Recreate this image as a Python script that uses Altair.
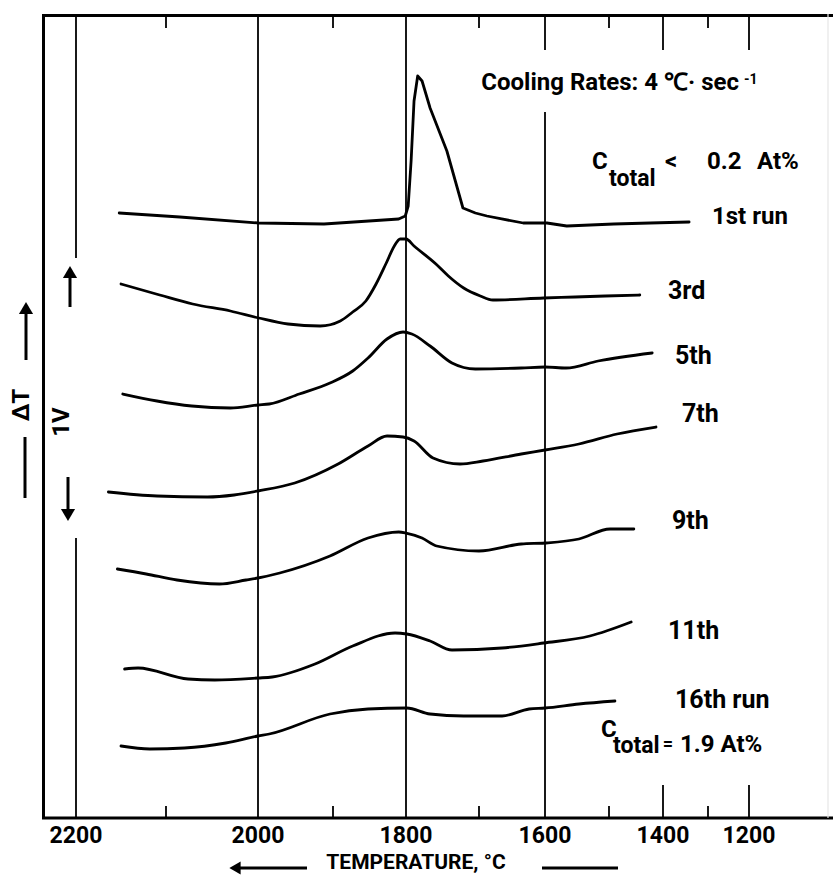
import altair as alt
import pandas as pd

FONT = "Roboto, Liberation Sans, sans-serif"

# ---- DTA cooling traces: temperature (deg C) vs. Delta-T signal (arbitrary units, traces offset) ----
run1_T = [2152, 2085, 1999, 1912, 1810, 1801, 1797, 1793, 1789, 1784, 1778, 1767, 1744, 1722,
          1705, 1688, 1633, 1597, 1566, 1491, 1424, 1342]
run1_dT = [60.5, 60.1, 59.5, 59.4, 59.9, 60.2, 61.2, 65.7, 71.7, 74.2, 73.7, 71.0, 66.7, 61.0,
           60.5, 60.2, 59.5, 59.5, 59.2, 59.4, 59.5, 59.6]

run3_T = [2150, 2107, 2071, 2030, 1999, 1960, 1917, 1890, 1873, 1855, 1841, 1827, 1816, 1808,
          1800, 1789, 1759, 1742, 1721, 1698, 1679, 1602, 1553, 1506, 1443]
run3_dT = [53.4, 52.3, 51.4, 50.7, 50.0, 49.4, 49.2, 49.7, 50.6, 51.7, 53.4, 55.5, 57.2, 57.9,
           57.9, 57.2, 55.4, 54.2, 53.0, 52.2, 51.8, 52.0, 52.1, 52.2, 52.3]

run5_T = [2148, 2110, 2072, 2030, 2000, 1985, 1945, 1904, 1873, 1852, 1826, 1804, 1792, 1767,
          1737, 1705, 1636, 1600, 1567, 1517, 1420]
run5_dT = [42.4, 41.7, 41.2, 41.0, 41.3, 41.4, 42.4, 43.5, 44.7, 46.0, 47.9, 48.6, 48.4, 47.2,
           45.5, 44.9, 45.0, 45.1, 45.0, 45.7, 46.5]

run7_T = [2164, 2110, 2055, 2026, 2000, 1951, 1893, 1852, 1826, 1804, 1789, 1763, 1726, 1694,
          1636, 1600, 1547, 1485, 1413]
run7_dT = [32.6, 32.2, 32.1, 32.3, 32.7, 33.5, 35.4, 37.2, 38.2, 38.1, 37.7, 36.0, 35.4, 35.7,
           36.4, 36.8, 37.4, 38.4, 39.1]

run9_T = [2154, 2122, 2088, 2042, 2013, 2000, 1971, 1904, 1852, 1810, 1800, 1778, 1758, 1700,
          1636, 1600, 1547, 1498, 1454]
run9_dT = [24.9, 24.4, 23.8, 23.4, 23.8, 24.0, 24.5, 26.2, 28.0, 28.6, 28.5, 28.0, 27.2, 26.7,
           27.4, 27.5, 27.9, 28.9, 28.9]

run11_T = [2146, 2131, 2076, 2047, 2000, 1981, 1924, 1873, 1815, 1799, 1767, 1737, 1665, 1602,
           1530, 1459]
run11_dT = [14.9, 15.0, 13.9, 13.8, 14.0, 14.1, 15.4, 17.2, 18.5, 18.4, 17.7, 16.8, 17.0, 17.5,
            18.2, 19.6]

run16_T = [2150, 2118, 2080, 2035, 2000, 1985, 1904, 1852, 1799, 1767, 1721, 1665, 1624, 1600,
           1547, 1489]
run16_dT = [7.2, 6.9, 7.0, 7.5, 8.2, 8.4, 10.4, 10.9, 11.0, 10.4, 10.2, 10.2, 10.9, 11.0,
            11.4, 11.7]

run_names = ["1st run", "3rd", "5th", "7th", "9th", "11th", "16th run"]
run_T = [run1_T, run3_T, run5_T, run7_T, run9_T, run11_T, run16_T]
run_dT = [run1_dT, run3_dT, run5_dT, run7_dT, run9_dT, run11_dT, run16_dT]

tick_labels = [2200, 2000, 1800, 1600, 1400, 1200]
minor_ticks = [2100, 1900, 1700, 1500, 1300]

rows = []
for name, ts, vs in zip(run_names, run_T, run_dT):
    for t, v in zip(ts, vs):
        rows.append({"run": name, "T": t, "dT": v})
traces_df = pd.DataFrame(rows)

W, H = 791, 804

# non-uniform (thermocouple-style) temperature axis as a piecewise linear scale
x_scale = alt.Scale(
    domain=[2200, 2100, 2000, 1900, 1800, 1700, 1600, 1500, 1400, 1300, 1200],
    range=[34, 124, 216, 291, 364, 437, 503, 567, 621, 666, 707],
    zero=False, nice=False,
)
y_scale = alt.Scale(domain=[0, 80.4], zero=False, nice=False)

one = pd.DataFrame({"k": [0]})


def vrule(T, y0, y1, w=1.8):
    return alt.Chart(one).mark_rule(color="black", strokeWidth=w).encode(
        x=alt.XDatum(T, axis=None), y=alt.value(y0), y2=alt.value(y1))


def prule(x0, y0, x1, y1, w=3.0, color="black"):
    return alt.Chart(one).mark_rule(color=color, strokeWidth=w, strokeCap="butt").encode(
        x=alt.value(x0), y=alt.value(y0), x2=alt.value(x1), y2=alt.value(y1))


def note(text, x, y, size=24, align="left", angle=0, weight="bold"):
    return alt.Chart(pd.DataFrame({"s": [text]})).mark_text(
        font=FONT, fontSize=size, fontWeight=weight, align=align, baseline="middle",
        angle=angle, color="black").encode(text="s:N", x=alt.value(x), y=alt.value(y))


def head(shape, x, y, size=200):
    return alt.Chart(one).mark_point(shape=shape, filled=True, size=size, color="black",
                                     opacity=1, strokeWidth=0).encode(
        x=alt.value(x), y=alt.value(y))


layers = []

# frame
layers += [prule(0, 1.5, W, 1.5), prule(1.5, 0, 1.5, H), prule(0, H, W, H),
           prule(786, 0, 786, H, w=1.2, color="#e6e6e6")]

# grid lines and inward ticks
layers += [vrule(2200, 0, 244), vrule(2200, 524, H), vrule(2000, 0, H), vrule(1800, 0, H),
           vrule(1600, 0, 36), vrule(1600, 98, H)]
for t in (1400, 1200):
    layers += [vrule(t, 0, 36), vrule(t, 771, H)]
for t in minor_ticks:
    layers += [vrule(t, 0, 14), vrule(t, 792, H)]

# the traces: the sharp first-run exotherm stays piecewise linear, later runs are smoothed
line_style = dict(color="black", strokeWidth=2.8, strokeJoin="round", strokeCap="round")
enc = dict(
    x=alt.X("T:Q", scale=x_scale, axis=None),
    y=alt.Y("dT:Q", scale=y_scale, axis=None),
    detail="run:N",
)
first = alt.Chart(traces_df[traces_df["run"] == "1st run"]).mark_line(
    interpolate="linear", **line_style).encode(**enc)
later = alt.Chart(traces_df[traces_df["run"] != "1st run"]).mark_line(
    interpolate="monotone", **line_style).encode(**enc)
layers += [first, later]

# temperature tick labels
tick_text = alt.Chart(pd.DataFrame({"T": tick_labels})).mark_text(
    font=FONT, fontSize=23, fontWeight="bold", baseline="middle", color="black"
).encode(x=alt.X("T:Q", axis=None), y=alt.value(H + 18), text=alt.Text("T:Q", format="d"))
layers.append(tick_text)

# x title with direction arrow
layers += [note("TEMPERATURE, \u00b0C", 374, 849, size=21, align="center"),
           prule(196, 854, 265, 854, w=3), head("triangle-left", 193, 854, 170),
           prule(500, 854, 576, 854, w=3)]

# Delta-T scale bar on the left
layers += [note("\u0394T", -20, 391, size=24, align="center", angle=270),
           prule(-16, 300, -16, 346, w=3), head("triangle-up", -16, 294, 200),
           prule(-17, 423, -17, 484, w=3),
           note("1V", 20, 408, size=24, align="center", angle=270),
           prule(28, 264, 28, 293, w=3), head("triangle-up", 28, 258, 200),
           prule(26, 463, 26, 496, w=3), head("triangle-down", 26, 501, 200)]

# annotations
layers += [note("Cooling Rates: 4 \u2103\u00b7 sec", 697, 69, size=24, align="right"),
           note("-1", 702, 66, size=14),
           note("C", 550, 148), note("total", 567, 165, size=23), note("<", 623, 148),
           note("0.2", 665, 148), note("At%", 715, 148),
           note("1st run", 670, 203), note("3rd", 626, 277, size=25), note("5th", 633, 342, size=25),
           note("7th", 640, 400, size=25), note("9th", 630, 507, size=25),
           note("11th", 626, 617, size=25), note("16th run", 633, 686, size=25),
           note("C", 559, 716), note("total", 571, 732, size=23),
           note("=", 626, 731, size=18, align="center"),
           note("1.9 At%", 638, 731)]

chart = alt.layer(*layers).properties(
    width=W, height=H,
    padding={"left": 42, "top": 14, "right": 0, "bottom": 64},
    autosize=alt.AutoSizeParams(type="none"),
    background="white",
).configure_view(strokeWidth=0)

chart.save("out.html", embed_options={"renderer": "svg", "actions": False})
